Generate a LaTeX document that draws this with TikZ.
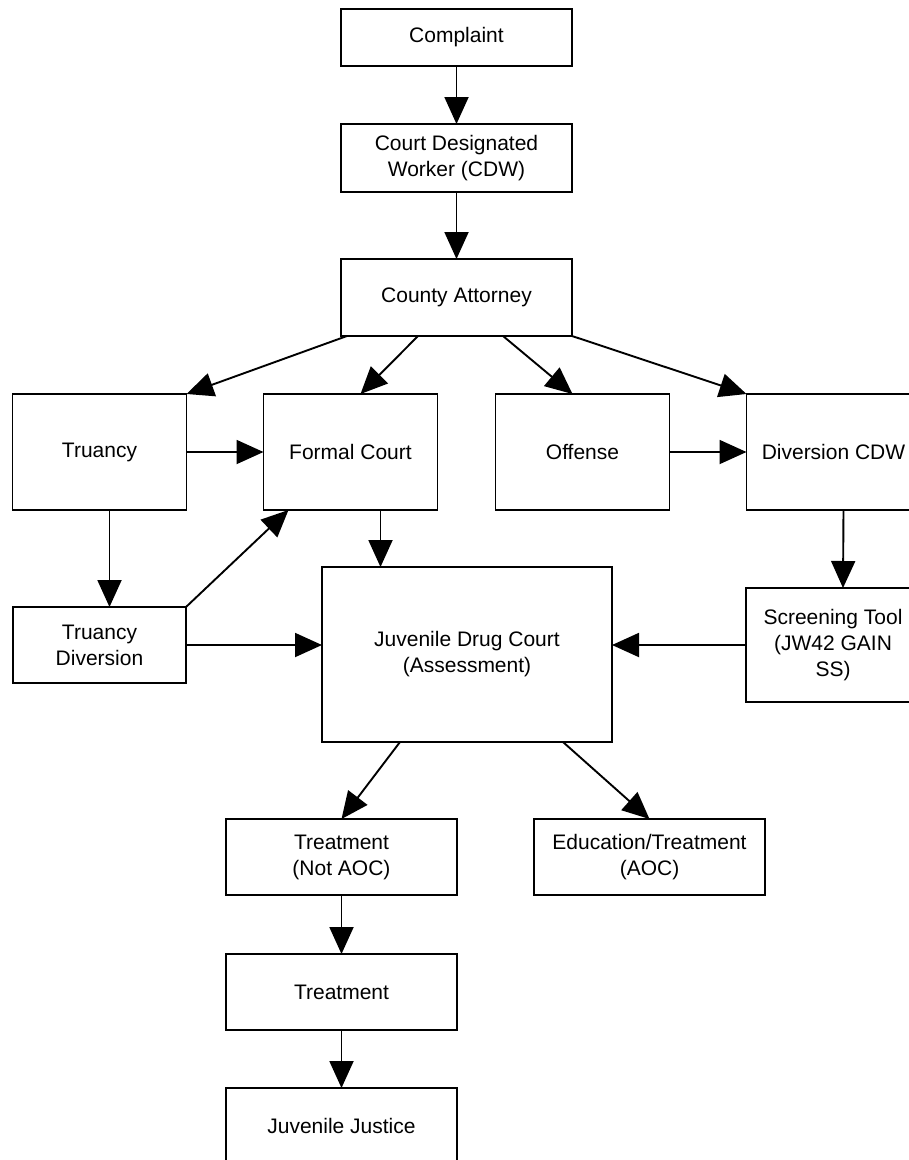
\documentclass[tikz,border=0pt]{standalone}
\usepackage{fontspec}
\setmainfont{Liberation Sans}
\usetikzlibrary{arrows.meta,positioning}

\begin{document}
\begin{tikzpicture}[
    x=1pt, y=-1pt,
    every node/.style={draw, line width=1.9pt, inner sep=0pt, outer sep=0pt, align=center, font=\fontsize{21}{26}\selectfont},
    box/.style={minimum width=231pt, minimum height=76pt},
    tall/.style={minimum width=174pt, minimum height=116pt},
    arr/.style={-{Triangle[length=27pt, width=24pt]}, line width=1.9pt}
  ]
    \clip (0,0) rectangle (909,1160);

    % Intake
    \node[box, minimum height=57pt] (complaint) at (456.5,37.5) {Complaint};
    \node[box, minimum height=68pt] (cdw) at (456.5,158) {Court Designated\\Worker (CDW)};
    \node[box, minimum height=77pt] (county) at (456.5,297.5) {County Attorney};

    % Referral row
    \node[tall] (truancy) at (99.5,452) {Truancy};
    \node[tall, right=77pt of truancy] (formal) {Formal Court};
    \node[tall, right=58pt of formal] (offense) {Offense};
    \node[tall, right=77pt of offense] (diversion) {Diversion CDW};

    % Assessment
    \node[tall, minimum width=173pt, minimum height=76pt] (tdiv) at (99.5,645) {Truancy\\Diversion};
    \node[minimum width=290pt, minimum height=175pt] (jdc) at (467,654.5) {Juvenile Drug Court\\(Assessment)};
    \node[tall, minimum height=114pt] (screen) at (833,645) {Screening Tool\\(JW42 GAIN\\SS)};

    % Outcomes
    \node[box] (tnot) at (341.5,857) {Treatment\\(Not AOC)};
    \node[box, right=77pt of tnot] (edu) {Education/Treatment\\(AOC)};
    \node[box, below=59pt of tnot] (treat) {Treatment};
    \node[box, below=58pt of treat] (jj) {Juvenile Justice};

    % Edges
    \draw[arr] (complaint) -- (cdw);
    \draw[arr] (cdw) -- (county);
    \draw[arr] ([xshift=-109.5pt]county.south) -- (truancy.north east);
    \draw[arr] ([xshift=-38.5pt]county.south) -- ([xshift=10pt]formal.north);
    \draw[arr] ([xshift=46.5pt]county.south) -- ([xshift=-10pt]offense.north);
    \draw[arr] (county.south east) -- (diversion.north west);
    \draw[arr] (truancy) -- (formal);
    \draw[arr] (offense) -- (diversion);
    \draw[arr] ([xshift=10pt]truancy.south) -- ([xshift=10pt]tdiv.north);
    \draw[arr] (tdiv.north east) -- ([xshift=25pt]formal.south west);
    \draw[arr] ([xshift=30pt]formal.south) -- ([xshift=30pt]formal.south |- jdc.north);
    \draw[arr] (tdiv) -- (tdiv -| jdc.west);
    \draw[arr] ([xshift=10pt]diversion.south) -- ([xshift=10pt]screen.north);
    \draw[arr] (screen) -- (screen -| jdc.east);
    \draw[arr] ([xshift=-67pt]jdc.south) -- (tnot.north);
    \draw[arr] ([xshift=96pt]jdc.south) -- (edu.north);
    \draw[arr] (tnot) -- (treat);
    \draw[arr] (treat) -- (jj);
  \end{tikzpicture}
\end{document}
